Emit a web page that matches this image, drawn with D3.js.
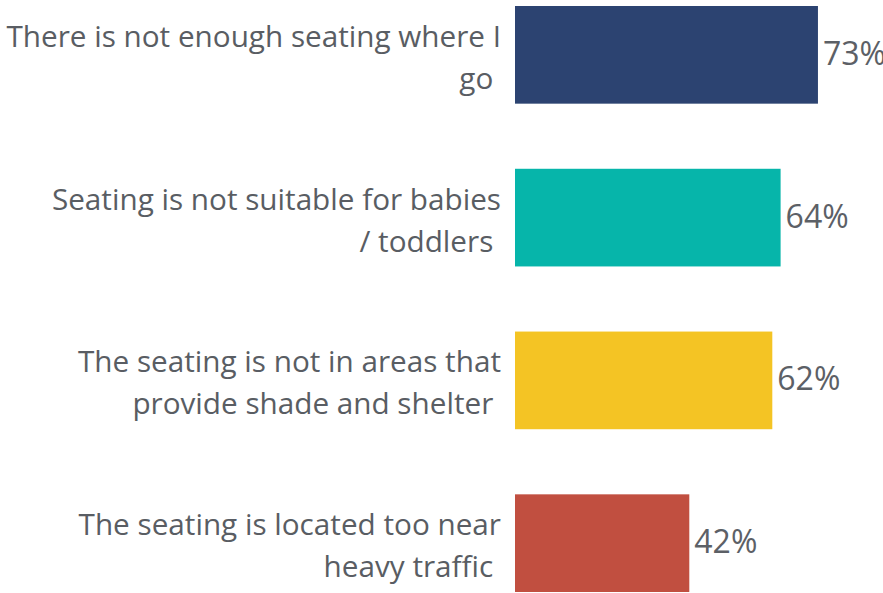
<!DOCTYPE html>
<html>
<head>
<meta charset="utf-8">
<script src="https://cdn.jsdelivr.net/npm/d3@7"></script>
<style>
  body { margin: 0; background: #fff; }
  svg text { font-family: "Open Sans", sans-serif; fill: #595d63; }
</style>
</head>
<body>
<div id="chart"></div>
<script>
// categories, each split into the lines it shows on
var categories = [
  ["There is not enough seating where I", "go"],
  ["Seating is not suitable for babies", "/ toddlers"],
  ["The seating is not in areas that", "provide shade and shelter"],
  ["The seating is located too near", "heavy traffic"]
];
var values = [73, 64, 62, 42];
var colors = ["#2c4371", "#06b5aa", "#f4c424", "#c14f40"];

var width = 883;
var height = 593;
var margin = {top: 6, left: 515, right: 0, bottom: 1};

var svg = d3.select("#chart")
  .append("svg")
  .attr("width", width)
  .attr("height", height);

var xScale = d3.scaleLinear()
  .domain([0, 100])
  .range([margin.left, margin.left + 415]);

var yScale = d3.scaleBand()
  .domain(d3.range(values.length))
  .range([margin.top, height - margin.bottom])
  .paddingInner(0.4)
  .paddingOuter(0);

var rows = svg.selectAll("g.row")
  .data(values)
  .enter()
  .append("g")
    .attr("class", "row")
    .attr("transform", function(d, i) { return `translate(0,${yScale(i) + yScale.bandwidth() / 2})`; });

rows.append("rect")
  .attr("x", xScale(0))
  .attr("y", -yScale.bandwidth() / 2)
  .attr("width", function(d) { return xScale(d) - xScale(0); })
  .attr("height", yScale.bandwidth())
  .attr("fill", function(d, i) { return colors[i]; });

rows.append("text")
  .attr("x", function(d) { return xScale(d) + 5; })
  .attr("y", 10)
  .attr("font-size", 32)
  .style("fill", "#5c6066")
  .text(function(d) { return d + "%"; });

var label = rows.append("text")
  .attr("text-anchor", "end")
  .attr("font-size", 29.7)
  .attr("xml:space", "preserve")
  .style("white-space", "pre");

label.selectAll("tspan")
  .data(function(d, i) { return categories[i]; })
  .enter()
  .append("tspan")
    .attr("x", 501)
    .attr("y", function(d, j) { return j === 0 ? -8 : 34; })
    .text(function(d, j) { return j === 0 ? d : d + "\u00A0"; });
</script>
</body>
</html>
